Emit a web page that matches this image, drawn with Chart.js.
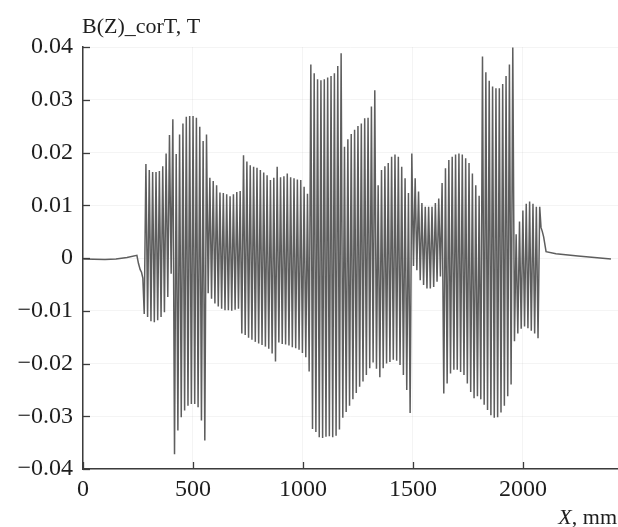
<!DOCTYPE html>
<html>
<head>
<meta charset="utf-8">
<script src="https://cdn.jsdelivr.net/npm/chart.js@4.4.1/dist/chart.umd.min.js"></script>
<style>
  html, body { margin: 0; padding: 0; background: #fff; }
  #wrap { width: 618px; height: 527px; }
</style>
</head>
<body>
<div id="wrap"><canvas id="chart" width="618" height="527"></canvas></div>
<script>
// axis ticks
const yTicks = [-0.04, -0.03, -0.02, -0.01, 0, 0.01, 0.02, 0.03, 0.04];
const xTicks = [0, 500, 1000, 1500, 2000];

// flat field before and after the magnet (x in mm, B in T)
const leadX = [0, 100, 150, 200, 245, 252, 260, 266, 272];
const leadB = [-0.0002, -0.0003, -0.0002, 0.0001, 0.0005, -0.001, -0.0022, -0.0027, -0.0038];
const tailX = [2082, 2088, 2094, 2105, 2150, 2250, 2400];
const tailB = [0.0058, 0.005, 0.004, 0.0012, 0.0008, 0.0004, -0.0002];

// undulator period sampling: first positive pole at 286 mm, pitch ~15.3 mm
const firstPoleX = 286;
const polePitch = 15.3;

// positive pole peaks (T)
const peaks = [
  0.0178, 0.0167, 0.0163, 0.0163, 0.0165, 0.0174,
  0.0198, 0.0233, 0.0263, 0.0197, 0.0234, 0.0255, 0.0268, 0.0269, 0.0269, 0.0266, 0.0249, 0.0222, 0.0234,
  0.0152,
  0.0146, 0.0138, 0.0124, 0.0123, 0.0121, 0.0117, 0.0121, 0.0125, 0.0127,
  0.0195, 0.0183, 0.0176, 0.0173, 0.0171, 0.0167, 0.0162, 0.0157, 0.0148, 0.0152,
  0.0173, 0.0153, 0.0155, 0.0160, 0.0153, 0.0151, 0.0149, 0.0148, 0.0135, 0.0122,
  0.0367, 0.0350, 0.0339, 0.0337, 0.0339, 0.0342, 0.0345, 0.0350, 0.0364, 0.0388,
  0.0211, 0.0225, 0.0235, 0.0243, 0.0250, 0.0255, 0.0265, 0.0266, 0.0287, 0.0318,
  0.0138, 0.0167, 0.0174, 0.0180, 0.0192, 0.0196, 0.0192, 0.0173, 0.0151, 0.0123,
  0.0198,
  0.0151, 0.0126, 0.0104, 0.0097, 0.0097, 0.0097, 0.0104, 0.0113, 0.0142,
  0.0170, 0.0186, 0.0192, 0.0196, 0.0198, 0.0196, 0.0189, 0.0180, 0.0160,
  0.0138, 0.0118,
  0.0382, 0.0352, 0.0336, 0.0325, 0.0322, 0.0322, 0.0330, 0.0345, 0.0367, 0.0399,
  0.0045,
  0.0069, 0.0090, 0.0103, 0.0107, 0.0103, 0.0097, 0.0097
];

// negative pole troughs, one before each peak (T)
const troughs = [
  -0.0106, -0.0112, -0.0120, -0.0122, -0.0118, -0.0112, -0.0103, -0.0074, -0.0030,
  -0.0372, -0.0327, -0.0302, -0.0289, -0.0280, -0.0277, -0.0277, -0.0283, -0.0308, -0.0346,
  -0.0067, -0.0077, -0.0086, -0.0092, -0.0096, -0.0099, -0.0099, -0.0100, -0.0098, -0.0096,
  -0.0143, -0.0146, -0.0151, -0.0155, -0.0159, -0.0162, -0.0165, -0.0168, -0.0172, -0.0181,
  -0.0196, -0.0160, -0.0163, -0.0164, -0.0166, -0.0169, -0.0171, -0.0174, -0.0180, -0.0188,
  -0.0215,
  -0.0324, -0.0330, -0.0340, -0.0341, -0.0339, -0.0338, -0.0340, -0.0337, -0.0325,
  -0.0303, -0.0292, -0.0280, -0.0268, -0.0256, -0.0244, -0.0234, -0.0222, -0.0209, -0.0198,
  -0.0210, -0.0226, -0.0209, -0.0200, -0.0197, -0.0193, -0.0195, -0.0203, -0.0222, -0.0250, -0.0294,
  -0.0015, -0.0023, -0.0042, -0.0051, -0.0058, -0.0058, -0.0055, -0.0045, -0.0035,
  -0.0257, -0.0238, -0.0219, -0.0212, -0.0212, -0.0216, -0.0222, -0.0238, -0.0254, -0.0266, -0.0262,
  -0.0268, -0.0278, -0.0288, -0.0298, -0.0303, -0.0302, -0.0293, -0.0280, -0.0262, -0.0240,
  -0.0158, -0.0143, -0.0134, -0.0130, -0.0133, -0.0138, -0.0143, -0.0152
];

const lineColor = '#5e5e5e';
const axisColor = '#3c3c3c';
const textColor = '#1e1e1e';
const serif = '"Liberation Serif", "Times New Roman", serif';

// assemble the curve
const points = [];
leadX.forEach((x, i) => points.push({ x: x, y: leadB[i] }));
peaks.forEach((p, i) => {
  points.push({ x: firstPoleX + polePitch * (i - 0.5), y: troughs[i] });
  points.push({ x: firstPoleX + polePitch * i, y: p });
});
tailX.forEach((x, i) => points.push({ x: x, y: tailB[i] }));

function fmtY(v) {
  const r = Math.round(v * 100) / 100;
  if (r === 0) return '0';
  return (r < 0 ? '\u2212' : '') + Math.abs(r).toFixed(2);
}

// inward tick marks plus the two axis captions
const decor = {
  id: 'decor',
  afterDraw(chart) {
    const { ctx, chartArea, scales } = chart;
    ctx.save();
    ctx.strokeStyle = axisColor;
    ctx.lineWidth = 1.3;
    yTicks.forEach(v => {
      const y = Math.round(scales.y.getPixelForValue(v)) + 0.5;
      ctx.beginPath();
      ctx.moveTo(chartArea.left, y);
      ctx.lineTo(chartArea.left + 7, y);
      ctx.stroke();
    });
    xTicks.forEach(v => {
      const x = Math.round(scales.x.getPixelForValue(v)) + 0.5;
      ctx.beginPath();
      ctx.moveTo(x, chartArea.bottom);
      ctx.lineTo(x, chartArea.bottom - 7);
      ctx.stroke();
    });

    ctx.fillStyle = textColor;
    ctx.textBaseline = 'alphabetic';
    ctx.textAlign = 'left';
    ctx.font = '22px ' + serif;
    ctx.fillText('B(Z)_corT, T', chartArea.left - 1, 33);

    // "X, mm" with an italic X, right-aligned at the canvas edge
    const rest = ', mm';
    ctx.font = '22px ' + serif;
    const wRest = ctx.measureText(rest).width;
    ctx.font = 'italic 22px ' + serif;
    const wX = ctx.measureText('X').width;
    const right = chart.width - 1;
    ctx.fillText('X', right - wRest - wX, 524);
    ctx.font = '22px ' + serif;
    ctx.fillText(rest, right - wRest, 524);
    ctx.restore();
  }
};

const ctx = document.getElementById('chart').getContext('2d');
new Chart(ctx, {
  type: 'line',
  data: {
    datasets: [{
      data: points,
      borderColor: lineColor,
      borderWidth: 1.5,
      pointRadius: 0,
      tension: 0,
      fill: false
    }]
  },
  options: {
    responsive: false,
    animation: false,
    layout: { padding: { top: 47, right: 0, left: 0, bottom: 0 } },
    plugins: {
      legend: { display: false },
      tooltip: { enabled: false }
    },
    scales: {
      x: {
        type: 'linear',
        min: 0,
        max: 2432,
        afterBuildTicks: scale => { scale.ticks = xTicks.map(v => ({ value: v })); },
        afterFit: scale => { scale.height = 58; },
        grid: { color: 'rgba(0,0,0,0.045)', drawTicks: false },
        border: { color: axisColor, width: 1.5 },
        ticks: {
          padding: 6,
          color: textColor,
          font: { family: serif, size: 24 },
          maxRotation: 0,
          callback: v => String(v)
        }
      },
      y: {
        type: 'linear',
        min: -0.04,
        max: 0.04,
        afterBuildTicks: scale => { scale.ticks = yTicks.map(v => ({ value: v })); },
        afterFit: scale => { scale.width = 83; },
        grid: { color: 'rgba(0,0,0,0.045)', drawTicks: false },
        border: { color: axisColor, width: 1.5 },
        ticks: {
          padding: 10,
          color: textColor,
          font: { family: serif, size: 24 },
          callback: v => fmtY(v)
        }
      }
    }
  },
  plugins: [decor]
});
</script>
</body>
</html>
